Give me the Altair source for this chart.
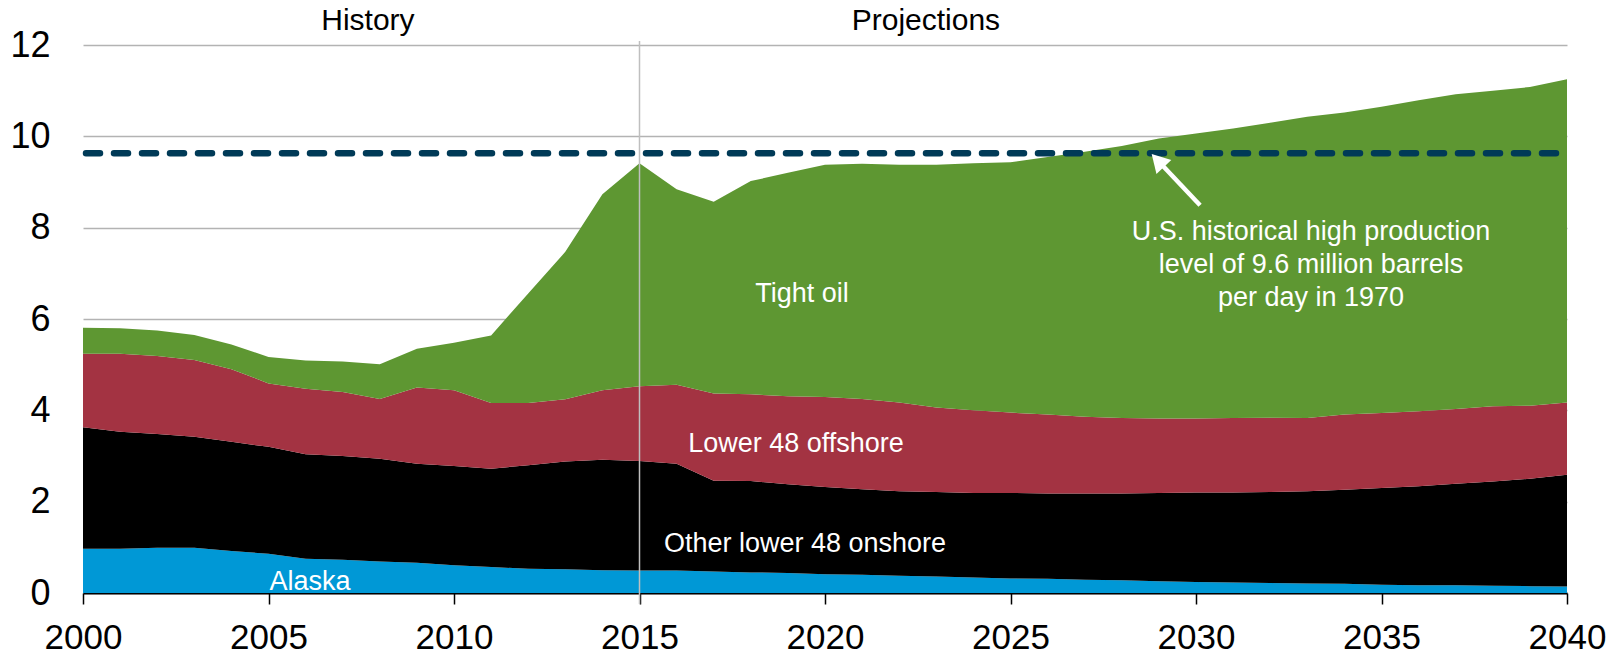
import altair as alt
import pandas as pd

years = list(range(2000, 2041))

alaska = [0.97, 0.97, 0.99, 0.99, 0.92, 0.86, 0.75, 0.73, 0.69, 0.66,
          0.61, 0.57, 0.53, 0.52, 0.50, 0.49, 0.49, 0.47, 0.45, 0.44,
          0.41, 0.40, 0.38, 0.36, 0.34, 0.32, 0.31, 0.29, 0.28, 0.26,
          0.24, 0.23, 0.22, 0.21, 0.20, 0.18, 0.17, 0.17, 0.16, 0.15, 0.14]

onshore = [2.66, 2.56, 2.49, 2.43, 2.39, 2.34, 2.29, 2.27, 2.25, 2.17,
           2.17, 2.15, 2.27, 2.36, 2.42, 2.40, 2.34, 1.99, 2.00, 1.94,
           1.91, 1.87, 1.85, 1.85, 1.85, 1.87, 1.87, 1.89, 1.90, 1.93,
           1.96, 1.97, 1.99, 2.02, 2.06, 2.12, 2.17, 2.22, 2.28, 2.35, 2.45]

offshore = [1.61, 1.71, 1.71, 1.68, 1.59, 1.39, 1.43, 1.40, 1.31, 1.67,
            1.66, 1.44, 1.36, 1.36, 1.52, 1.64, 1.73, 1.91, 1.90, 1.93,
            1.97, 1.98, 1.94, 1.85, 1.81, 1.76, 1.73, 1.68, 1.65, 1.63,
            1.62, 1.63, 1.63, 1.60, 1.65, 1.64, 1.64, 1.64, 1.65, 1.60, 1.58]

tight = [0.57, 0.56, 0.56, 0.55, 0.54, 0.58, 0.62, 0.67, 0.76, 0.85,
         1.04, 1.48, 2.40, 3.23, 4.29, 4.88, 4.28, 4.20, 4.67, 4.89,
         5.09, 5.15, 5.21, 5.32, 5.41, 5.48, 5.64, 5.80, 5.96, 6.13,
         6.24, 6.34, 6.46, 6.60, 6.61, 6.71, 6.81, 6.89, 6.91, 6.98, 7.08]

series_names = ["Alaska", "Other lower 48 onshore", "Lower 48 offshore", "Tight oil"]
series_colors = ["#0098d6", "#000000", "#a33342", "#5e9732"]
series_values = [alaska, onshore, offshore, tight]

x_ticks = [2000, 2005, 2010, 2015, 2020, 2025, 2030, 2035, 2040]
y_ticks = [0, 2, 4, 6, 8, 10, 12]

historical_high = 9.63
divider_year = 2015

rows = []
for order, (name, vals) in enumerate(zip(series_names, series_values)):
    for yr, v in zip(years, vals):
        rows.append({"year": yr, "value": v, "series": name, "order": order})
df = pd.DataFrame(rows)

# in-chart white labels
label_text = ["Tight oil", "Lower 48 offshore", "Other lower 48 onshore", "Alaska",
              "U.S. historical high production", "level of 9.6 million barrels",
              "per day in 1970"]
label_x = [2019.38, 2019.22, 2019.46, 2006.12, 2033.1, 2033.1, 2033.1]
label_y = [6.38, 3.09, 0.90, 0.07, 7.72, 7.01, 6.28]
labels_df = pd.DataFrame({"text": label_text, "x": label_x, "y": label_y})

head_text = ["History", "Projections"]
head_x = [2007.68, 2022.72]
heads_df = pd.DataFrame({"text": head_text, "x": head_x})

arrow_df = pd.DataFrame({"x": [2030.11], "y": [8.49], "x2": [2028.97], "y2": [9.47]})
head_df = pd.DataFrame({"x": [2028.97], "y": [9.47]})

FONT = "Liberation Sans"
W, H = 1484, 548

xscale = alt.Scale(domain=[2000, 2040], nice=False)
yscale = alt.Scale(domain=[0, 12], nice=False)

areas = alt.Chart(df).mark_area(opacity=1).encode(
    x=alt.X("year:Q", scale=xscale,
            axis=alt.Axis(values=x_ticks, format="d", title=None, grid=False,
                          domainColor="#000000", domainWidth=2,
                          tickColor="#000000", tickWidth=1.5, tickSize=11,
                          labelFont=FONT, labelFontSize=35, labelColor="#000000",
                          labelPadding=16, labelFlush=False)),
    y=alt.Y("value:Q", stack="zero", scale=yscale,
            axis=alt.Axis(values=y_ticks, title=None, domain=False, ticks=False,
                          tickSize=0, grid=True, gridColor="#b3b3b3", gridWidth=1.5,
                          labelFont=FONT, labelFontSize=36, labelColor="#000000",
                          labelPadding=33)),
    color=alt.Color("series:N", scale=alt.Scale(domain=series_names, range=series_colors),
                    legend=None),
    order=alt.Order("order:Q"),
)

divider = alt.Chart(pd.DataFrame({"x": [divider_year]})).mark_rule(
    color="#bfbfbf", strokeWidth=1.5
).encode(x=alt.X("x:Q", scale=xscale), y=alt.value(-4), y2=alt.value(559))

dashed = alt.Chart(pd.DataFrame({"y": [historical_high]})).mark_rule(
    color="#003a57", strokeWidth=6.5, strokeDash=[14, 14], strokeCap="round"
).encode(y=alt.Y("y:Q", scale=yscale), x=alt.value(3), x2=alt.value(W))

arrow = alt.Chart(arrow_df).mark_rule(color="white", strokeWidth=4.5).encode(
    x=alt.X("x:Q", scale=xscale), y=alt.Y("y:Q", scale=yscale),
    x2="x2:Q", y2="y2:Q")

arrow_head = alt.Chart(head_df).mark_point(
    shape="triangle-up", filled=True, color="white", opacity=1, size=420, angle=316.5,
    strokeWidth=0
).encode(x=alt.X("x:Q", scale=xscale), y=alt.Y("y:Q", scale=yscale))

labels = alt.Chart(labels_df).mark_text(
    font=FONT, fontSize=27, color="white", align="center", baseline="alphabetic"
).encode(x=alt.X("x:Q", scale=xscale), y=alt.Y("y:Q", scale=yscale), text="text:N")

heads = alt.Chart(heads_df).mark_text(
    font=FONT, fontSize=30, color="#000000", align="center", baseline="alphabetic"
).encode(x=alt.X("x:Q", scale=xscale), y=alt.value(-15), text="text:N")

chart = alt.layer(areas, divider, dashed, arrow, arrow_head, labels, heads).properties(
    width=W, height=H,
    autosize=alt.AutoSizeParams(type="none"),
    padding={"left": 83, "top": 45, "right": 43, "bottom": 58},
    background="white",
).configure_view(stroke=None)

chart.save("out.html", embed_options={"renderer": "svg", "actions": False})
